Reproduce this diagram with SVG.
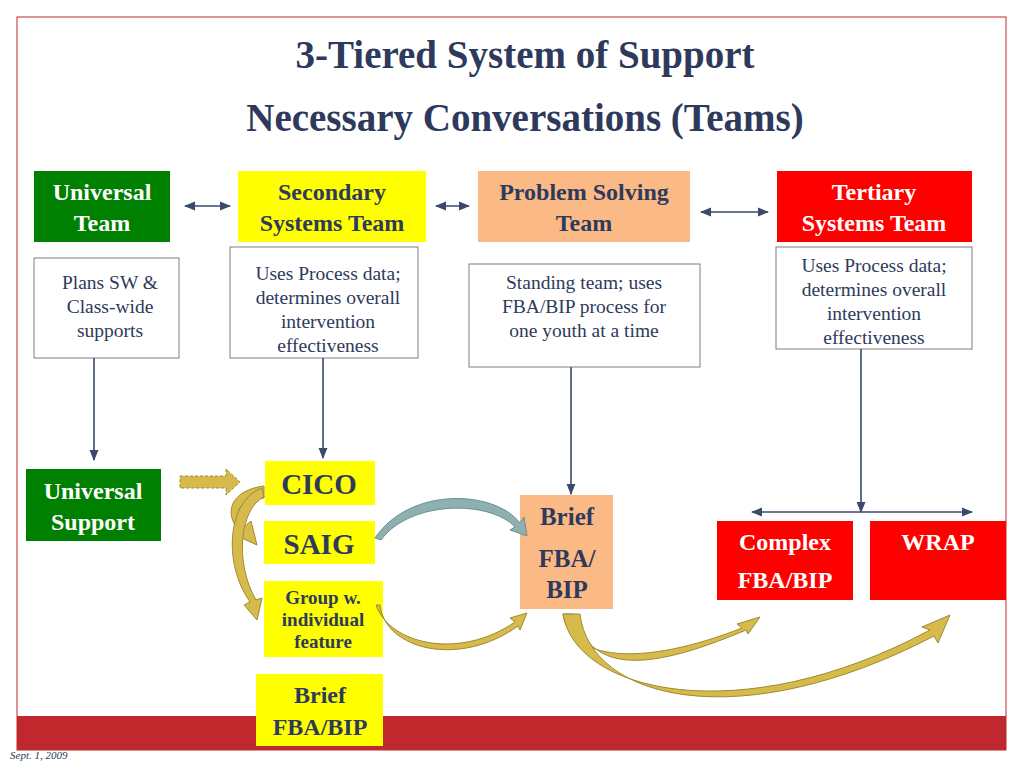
<svg xmlns="http://www.w3.org/2000/svg" width="1024" height="768" viewBox="0 0 1024 768">
<defs>
<style>
.t{font-family:"Liberation Serif",serif;font-weight:bold;text-anchor:middle}
.n{fill:#2E3A5C}.w{fill:#fff}
.d{font-family:"Liberation Serif",serif;font-size:19.5px;fill:#2E3A5C;text-anchor:middle}
.box{fill:#fff;stroke:#7F7F7F;stroke-width:1}
.ln{stroke:#3A4A6B;stroke-width:1.6;fill:none}
.gold{fill:#D6BA4C;stroke:#A08A30;stroke-width:1}
</style>
<marker id="a" viewBox="0 0 10 10" refX="9" refY="5" markerWidth="7" markerHeight="7" orient="auto-start-reverse"><path d="M0,1L10,5L0,9z" fill="#3A4A6B"/></marker>
</defs>
<rect x="0" y="0" width="1024" height="768" fill="#fff"/>
<rect x="17" y="17" width="989" height="733" fill="none" stroke="#C0282D" stroke-width="1"/>
<rect x="17" y="716" width="989" height="34" fill="#C0282D"/>
<text x="10" y="759" font-family="Liberation Serif,serif" font-style="italic" font-size="11" fill="#2E3A5C">Sept. 1, 2009</text>
<text class="t n" x="525" y="68" font-size="39">3-Tiered System of Support</text>
<text class="t n" x="525" y="131" font-size="39">Necessary Conversations (Teams)</text>

<g id="universal-team"><rect x="34" y="171" width="136" height="71" fill="#008000"/><text class="t w" font-size="24" x="102" y="200">Universal</text><text class="t w" font-size="24" x="102" y="231">Team</text></g>
<g id="secondary-team"><rect x="238" y="171" width="188" height="71" fill="#FFFF00"/><text class="t n" font-size="24" x="332" y="200">Secondary</text><text class="t n" font-size="24" x="332" y="231">Systems Team</text></g>
<g id="problem-team"><rect x="478" y="171" width="212" height="71" fill="#FBB985"/><text class="t n" font-size="24" x="584" y="200">Problem Solving</text><text class="t n" font-size="24" x="584" y="231">Team</text></g>
<g id="tertiary-team"><rect x="777" y="171" width="195" height="71" fill="#FF0000"/><text class="t w" font-size="24" x="874" y="200">Tertiary</text><text class="t w" font-size="24" x="874" y="231">Systems Team</text></g>

<g id="desc-universal"><rect class="box" x="34" y="258" width="145" height="100"/><text class="d" x="110" y="289">Plans SW &amp;</text><text class="d" x="110" y="313">Class-wide</text><text class="d" x="110" y="337">supports</text></g>
<g id="desc-secondary"><rect class="box" x="230" y="247" width="188" height="111"/><text class="d" x="328" y="280">Uses Process data;</text><text class="d" x="328" y="304">determines overall</text><text class="d" x="328" y="328">intervention</text><text class="d" x="328" y="352">effectiveness</text></g>
<g id="desc-problem"><rect class="box" x="469" y="264" width="231" height="103"/><text class="d" x="584" y="289">Standing team; uses</text><text class="d" x="584" y="313">FBA/BIP process for</text><text class="d" x="584" y="337">one youth at a time</text></g>
<g id="desc-tertiary"><rect class="box" x="776" y="247" width="196" height="102"/><text class="d" x="874" y="272">Uses Process data;</text><text class="d" x="874" y="296">determines overall</text><text class="d" x="874" y="320">intervention</text><text class="d" x="874" y="344">effectiveness</text></g>

<g id="universal-support"><rect x="26" y="469" width="135" height="72" fill="#008000"/><text class="t w" font-size="24" x="93" y="499">Universal</text><text class="t w" font-size="24" x="93" y="530">Support</text></g>
<g id="cico"><rect x="265" y="461" width="110" height="44" fill="#FFFF00"/><text class="t n" font-size="29" x="319" y="494">CICO</text></g>
<g id="saig"><rect x="264" y="521" width="111" height="43" fill="#FFFF00"/><text class="t n" font-size="29" x="319" y="554">SAIG</text></g>
<g id="group"><rect x="264" y="581" width="119" height="76" fill="#FFFF00"/><text class="t n" font-size="19" x="323" y="604">Group w.</text><text class="t n" font-size="19" x="323" y="626">individual</text><text class="t n" font-size="19" x="323" y="648">feature</text></g>
<g id="brief-secondary"><rect x="256" y="674" width="127" height="72" fill="#FFFF00"/><text class="t n" font-size="24" x="320" y="703">Brief</text><text class="t n" font-size="24" x="320" y="735">FBA/BIP</text></g>
<g id="brief-problem"><rect x="520" y="495" width="93" height="114" fill="#FBB985"/><text class="t n" font-size="25" x="567" y="525">Brief</text><text class="t n" font-size="25" x="567" y="567">FBA/</text><text class="t n" font-size="25" x="567" y="598">BIP</text></g>
<g id="complex"><rect x="717" y="521" width="136" height="79" fill="#FF0000"/><text class="t w" font-size="24" x="785" y="550">Complex</text><text class="t w" font-size="24" x="785" y="588">FBA/BIP</text></g>
<g id="wrap"><rect x="870" y="521" width="136" height="79" fill="#FF0000"/><text class="t w" font-size="24" x="938" y="550">WRAP</text></g>

<g id="connectors">
<line class="ln" x1="185" y1="206" x2="230" y2="206" marker-start="url(#a)" marker-end="url(#a)"/>
<line class="ln" x1="436" y1="206" x2="469" y2="206" marker-start="url(#a)" marker-end="url(#a)"/>
<line class="ln" x1="701" y1="212" x2="768" y2="212" marker-start="url(#a)" marker-end="url(#a)"/>
<line class="ln" x1="94" y1="358" x2="94" y2="460" marker-end="url(#a)"/>
<line class="ln" x1="323" y1="358" x2="323" y2="458" marker-end="url(#a)"/>
<line class="ln" x1="571" y1="367" x2="571" y2="494" marker-end="url(#a)"/>
<line class="ln" x1="861" y1="349" x2="861" y2="512" marker-end="url(#a)"/>
<line class="ln" x1="752" y1="512" x2="972" y2="512" marker-start="url(#a)" marker-end="url(#a)"/>
<path class="gold" stroke-dasharray="3,2" d="M180,476H226V469L240,482L226,495V488H180Z"/>
<path class="gold" d="M264,486C232,490 222,512 240,532L235,535L257,545L251,521L245,526C232,510 240,500 264,498Z"/>
<path class="gold" d="M262,488C228,500 222,562 250,602L244,605L257,620L262,598L256,600C234,562 240,508 264,497Z"/>
<path fill="#8FB0B0" stroke="#6E8F95" stroke-width="1" d="M375,538C410,486 495,490 520,523L524,517L527,536L510,530L515,527C490,500 410,500 381,540Z"/>
<path class="gold" d="M376,605C390,645 460,660 515,622L510,618L527,613L520,630L518,626C460,668 385,650 380,605Z"/>
<path class="gold" d="M563,614C570,660 640,668 742,628L737,624L760,617L748,634L746,630C640,675 590,670 574,614Z"/>
<path class="gold" d="M563,614C575,692 740,732 930,630L922,627L950,615L938,643L934,636C740,737 590,700 580,614Z"/>
</g>
</svg>
